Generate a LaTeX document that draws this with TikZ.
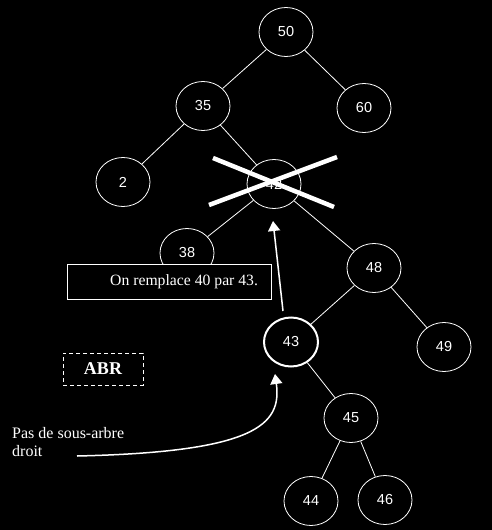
\documentclass[tikz,border=0pt]{standalone}
\usepackage{fontspec}
\setmainfont{Liberation Serif}
\setsansfont{Liberation Sans}
\usetikzlibrary{
    shapes.geometric, % ellipse nodes
    arrows.meta       % filled triangle tips
}
\newcommand{\nodew}{54pt}
\newcommand{\nodeh}{49pt}
\tikzset{
    tree node/.style={
        ellipse, draw, white, line width=0.8pt,
        minimum width=\nodew, minimum height=\nodeh, inner sep=0pt,
        font=\sffamily\fontsize{14.5}{16}\selectfont
    },
    moved node/.style={tree node, line width=2pt},
    tree edge/.style={draw, white, line width=0.8pt},
    note box/.style={
        draw, white, fill=black, line width=1pt,
        font=\fontsize{15.7}{18}\selectfont
    },
    cross line/.style={white, line width=4.5pt},
    hint arrow/.style={
        -{Triangle[width=12pt, length=10pt]}, white, line width=1.5pt
    }
}

\begin{document}
\begin{tikzpicture}[x=1pt, y=-1pt]
        \fill[black] (0,0) rectangle (492,530);
        \useasboundingbox (0,0) rectangle (492,530);

        % the tree
        \node[tree node] (n50) at (286,32) {50};
        \node[tree node] (n35) at (203,106) {35};
        \node[tree node] (n60) at (364,108) {60};
        \node[tree node] (n2) at (123,182) {2};
        \node[tree node] (n42) at (274,184) {42};
        \node[tree node] (n38) at (187,253) {38};
        \node[tree node] (n48) at (374,268) {48};
        \node[moved node] (n43) at (291,342) {43};
        \node[tree node] (n49) at (444,347) {49};
        \node[tree node] (n45) at (351,418) {45};
        \node[tree node] (n44) at (311,501) {44};
        \node[tree node] (n46) at (385,500) {46};

        \draw[tree edge] (n50) -- (n35);
        \draw[tree edge] (n50) -- (n60);
        \draw[tree edge] (n35) -- (n2);
        \draw[tree edge] (n35) -- (n42);
        \draw[tree edge] (n42) -- (n38);
        \draw[tree edge] (n42) -- (n48);
        \draw[tree edge] (n48) -- (n43);
        \draw[tree edge] (n48) -- (n49);
        \draw[tree edge] (n43) -- (n45);
        \draw[tree edge] (n45) -- (n44);
        \draw[tree edge] (n45) -- (n46);

        % notes
        \node[note box, text width=178pt, align=flush right, inner xsep=13pt,
              minimum height=35pt] (swap) at (169,281.5) {On remplace 40 par 43.};
        \node[draw, white, dashed, dash pattern=on 4pt off 3pt, line width=1pt,
              minimum width=80pt, minimum height=32pt,
              font=\bfseries\fontsize{18}{20}\selectfont] (abr) at (103,369) {ABR};
        \node[white, align=left, anchor=north west, inner sep=0pt,
              font=\fontsize{16}{18}\selectfont] (hint) at (12,427) {Pas de sous-arbre\\droit};

        % 42 is struck out
        \draw[cross line] (213,158) -- (334,207);
        \draw[cross line] (209,205) -- (337,157);

        \coordinate (up tail) at (283,311);
        \coordinate (up tip) at (273,221);
        \coordinate (hint tail) at (77,456);
        \coordinate (hint tip) at (275,374);
        \draw[hint arrow] (up tail) -- (up tip);
        \draw[hint arrow] (hint tail) .. controls (255,452) and (282,425) .. (hint tip);
    \end{tikzpicture}
\end{document}
